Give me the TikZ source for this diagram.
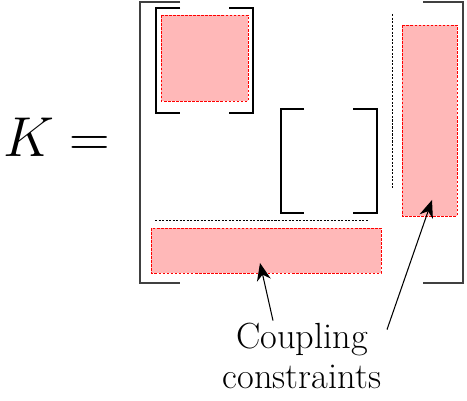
\RequirePackage{fix-cm}
\documentclass[tikz,border=0pt]{standalone}
\usepackage{amsmath}
\usetikzlibrary{positioning,arrows.meta,calc}

\begin{document}
\begin{tikzpicture}[
  x=0.02cm,y=-0.02cm,
  every node/.style={align=center,inner sep=0pt},
  brk/.style={draw=black!75,line width=0.9pt},
  sbrk/.style={draw=black,line width=0.75pt},
  blk/.style={fill=red!28,draw=red,dash pattern=on 1.5pt off 0.8pt,line width=0.5pt},
  sep/.style={draw=black,dash pattern=on 1.2pt off 0.8pt,line width=0.5pt},
  arr/.style={-{Stealth[length=10pt,width=8pt]},line width=0.6pt}
]
  \useasboundingbox (0,0) rectangle (467,401);

  % K =
  \node[anchor=base west,font=\fontsize{32}{38}\selectfont] (lhs) at (3,157) {$K=$};

  % outer bracket
  \draw[brk] (180,2) -- (140,2) -- (140,283) -- (180,283);
  \draw[brk] (423,2) -- (463,2) -- (463,283) -- (423,283);

  % first diagonal block
  \draw[sbrk] (180,8) -- (156,8) -- (156,113) -- (180,113);
  \draw[sbrk] (229,8) -- (253,8) -- (253,113) -- (229,113);
  \draw[blk] (161,15) rectangle (248,101);

  % second diagonal block
  \draw[sbrk] (304,109) -- (281,109) -- (281,213) -- (304,213);
  \draw[sbrk] (353,109) -- (377,109) -- (377,213) -- (353,213);

  % coupling rows and columns
  \draw[sep] (155,220) -- (368,220);
  \draw[sep] (392,14) -- (392,189);
  \draw[blk] (151,228) rectangle (381,273);
  \draw[blk] (402,25) rectangle (457,216);

  % label
  \node[font=\fontsize{20.7}{23}\selectfont] (lbl) at (302,356) {Coupling\\constraints};
  \coordinate (tipA) at (260,263);
  \coordinate (tipB) at (432,200);
  \draw[arr] ($(lbl.north)+(-29,-2)$) -- (tipA);
  \draw[arr] ($(lbl.north)+(85,7)$) -- (tipB);
\end{tikzpicture}
\end{document}
